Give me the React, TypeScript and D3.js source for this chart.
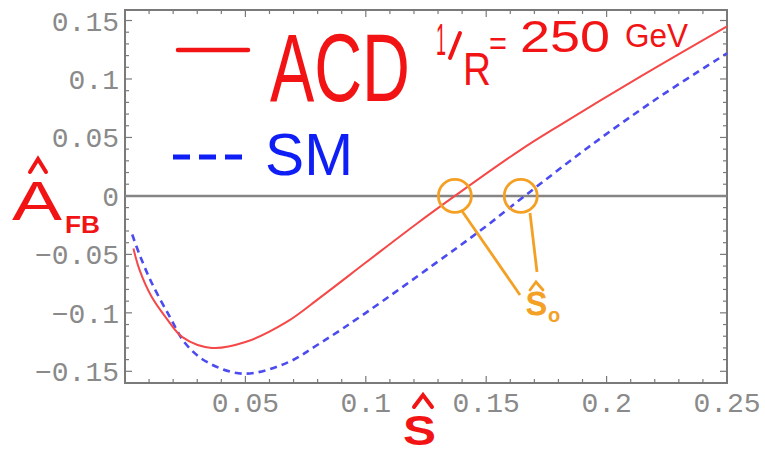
import React, { useEffect, useRef } from 'react'
import * as d3 from 'd3'

// A_FB vs s-hat
const acdS = [0.0035, 0.006, 0.011, 0.017, 0.024, 0.036, 0.05, 0.067, 0.081, 0.1, 0.121, 0.137, 0.164, 0.181, 0.214, 0.25]
const acdA = [-0.045, -0.063, -0.086, -0.104, -0.121, -0.13, -0.125, -0.108, -0.087, -0.057, -0.024, 0, 0.039, 0.061, 0.102, 0.145]
const smS = [0.003, 0.006, 0.011, 0.0185, 0.025, 0.034, 0.049, 0.067, 0.081, 0.1, 0.128, 0.148, 0.166, 0.192, 0.22, 0.25]
const smA = [-0.033, -0.05, -0.074, -0.103, -0.126, -0.142, -0.152, -0.143, -0.126, -0.1, -0.059, -0.029, 0, 0.041, 0.082, 0.122]

const xTicks = [0.05, 0.1, 0.15, 0.2, 0.25]
const xTickLabels = ['0.05', '0.1', '0.15', '0.2', '0.25']
const yTicks = [-0.15, -0.1, -0.05, 0, 0.05, 0.1, 0.15]
const yTickLabels = ['\u22120.15', '\u22120.1', '\u22120.05', '0', '0.05', '0.1', '0.15']

export default function App() {
  const ref = useRef<SVGSVGElement>(null)

  useEffect(() => {
    const svg = d3.select(ref.current)
    svg.selectAll('*').remove()

    const left = 125, right = 727, top = 10, bottom = 383
    const x = d3.scaleLinear().domain([0, 0.25]).range([left, right])
    const y = d3.scaleLinear().domain([-0.16, 0.159]).range([bottom, top])

    const gray = '#7a7a7a'
    // frame
    svg.append('rect')
      .attr('x', left).attr('y', top)
      .attr('width', right - left).attr('height', bottom - top)
      .attr('fill', 'none').attr('stroke', gray).attr('stroke-width', 2)

    // ticks on all four sides, inward
    const xMinor = d3.range(1, 25).map(i => i / 100).filter(v => Math.abs(v * 20 - Math.round(v * 20)) > 1e-6)
    const yMinor = d3.range(-15, 16).map(i => i / 100).filter(v => Math.abs(v * 20 - Math.round(v * 20)) > 1e-6)
    const tk = svg.append('g').attr('stroke', gray).attr('stroke-width', 1.2)
    const xt = [...xTicks.map(v => ({ v, l: 7 })), ...xMinor.map(v => ({ v, l: 4 }))]
    const yt = [...yTicks.map(v => ({ v, l: 7 })), ...yMinor.map(v => ({ v, l: 4 }))]
    xt.forEach(t => {
      tk.append('line').attr('x1', x(t.v)).attr('x2', x(t.v)).attr('y1', bottom).attr('y2', bottom - t.l)
      tk.append('line').attr('x1', x(t.v)).attr('x2', x(t.v)).attr('y1', top).attr('y2', top + t.l)
    })
    yt.forEach(t => {
      tk.append('line').attr('y1', y(t.v)).attr('y2', y(t.v)).attr('x1', left).attr('x2', left + t.l)
      tk.append('line').attr('y1', y(t.v)).attr('y2', y(t.v)).attr('x1', right).attr('x2', right - t.l)
    })

    // tick labels
    const lab = svg.append('g')
      .style('font-family', '"Liberation Mono", "DejaVu Sans Mono", monospace')
      .style('font-size', '28px').attr('fill', '#8a8a8a')
    xTicks.forEach((v, i) => {
      lab.append('text').attr('x', x(v)).attr('y', bottom + 29)
        .attr('text-anchor', 'middle').text(xTickLabels[i])
    })
    yTicks.forEach((v, i) => {
      lab.append('text').attr('x', left - 6).attr('y', y(v) + 10)
        .attr('text-anchor', 'end').text(yTickLabels[i])
    })

    // zero line
    svg.append('line').attr('x1', left).attr('x2', right).attr('y1', y(0)).attr('y2', y(0))
      .attr('stroke', '#858585').attr('stroke-width', 2.5)

    const line = d3.line<[number, number]>().x(d => x(d[0])).y(d => y(d[1])).curve(d3.curveCatmullRom)
    svg.append('path').attr('d', line(smS.map((s, i) => [s, smA[i]])))
      .attr('fill', 'none').attr('stroke', '#4b4bf0').attr('stroke-width', 2.6)
      .attr('stroke-dasharray', '7,5')
    svg.append('path').attr('d', line(acdS.map((s, i) => [s, acdA[i]])))
      .attr('fill', 'none').attr('stroke', '#f54848').attr('stroke-width', 2)

    // hand-written legend and labels
    const red = '#f21414', blue = '#0f1ef5', orange = '#f4a024'
    const hand = '"Liberation Sans", Arial, sans-serif'
    svg.append('line').attr('x1', 178).attr('x2', 248).attr('y1', 50).attr('y2', 50)
      .attr('stroke', red).attr('stroke-width', 4.5).attr('stroke-linecap', 'round')
    svg.append('text').attr('x', 270).attr('y', 101).attr('font-family', hand)
      .attr('font-size', 97).attr('fill', red)
      .attr('textLength', 140).attr('lengthAdjust', 'spacingAndGlyphs').text('ACD')
    svg.append('line').attr('x1', 173).attr('x2', 243).attr('y1', 157).attr('y2', 157)
      .attr('stroke', blue).attr('stroke-width', 5).attr('stroke-dasharray', '17,9')
    svg.append('text').attr('x', 265).attr('y', 175).attr('font-family', hand)
      .attr('font-size', 60).attr('fill', blue)
      .attr('textLength', 88).attr('lengthAdjust', 'spacingAndGlyphs').text('SM')

    const g1 = svg.append('g').attr('font-family', hand).attr('fill', red)
    g1.append('text').attr('x', 436).attr('y', 55).attr('font-size', 45)
      .attr('textLength', 10).attr('lengthAdjust', 'spacingAndGlyphs').text('1')
    svg.append('line').attr('x1', 460).attr('y1', 33).attr('x2', 450).attr('y2', 58)
      .attr('stroke', red).attr('stroke-width', 4).attr('stroke-linecap', 'round')
    g1.append('text').attr('x', 463).attr('y', 85).attr('font-size', 46)
      .attr('textLength', 28).attr('lengthAdjust', 'spacingAndGlyphs').text('R')
    g1.append('text').attr('x', 489).attr('y', 55).attr('font-size', 34)
      .attr('textLength', 18).attr('lengthAdjust', 'spacingAndGlyphs').text('=')
    g1.append('text').attr('x', 520).attr('y', 52).attr('font-size', 45)
      .attr('textLength', 90).attr('lengthAdjust', 'spacingAndGlyphs').text('250')
    g1.append('text').attr('x', 625).attr('y', 47).attr('font-size', 34)
      .attr('textLength', 63).attr('lengthAdjust', 'spacingAndGlyphs').text('GeV')

    // y label A-hat FB
    g1.append('text').attr('x', 12).attr('y', 220).attr('font-size', 55)
      .attr('textLength', 50).attr('lengthAdjust', 'spacingAndGlyphs').text('A')
    g1.append('text').attr('x', 65).attr('y', 233).attr('font-size', 24).attr('font-weight', 'bold')
      .attr('textLength', 35).attr('lengthAdjust', 'spacingAndGlyphs').text('FB')
    svg.append('path').attr('d', 'M30,172 L38,159 L46,172')
      .attr('fill', 'none').attr('stroke', red).attr('stroke-width', 4).attr('stroke-linecap', 'round')

    // x label s-hat
    g1.append('text').attr('x', 403).attr('y', 445).attr('font-size', 42).attr('font-weight', 'bold')
      .attr('textLength', 33).attr('lengthAdjust', 'spacingAndGlyphs').text('S')
    svg.append('path').attr('d', 'M414,407 L423,395 L432,407')
      .attr('fill', 'none').attr('stroke', red).attr('stroke-width', 4).attr('stroke-linecap', 'round')

    // s0 markers
    const o = svg.append('g').attr('fill', 'none').attr('stroke', orange).attr('stroke-width', 2.8)
    o.append('circle').attr('cx', x(acdS[11])).attr('cy', y(0)).attr('r', 16.5)
    o.append('circle').attr('cx', x(smS[12]) - 4).attr('cy', y(0)).attr('r', 16.5)
    o.append('line').attr('x1', 462).attr('y1', 211).attr('x2', 520).attr('y2', 295)
    o.append('line').attr('x1', 530).attr('y1', 213).attr('x2', 537).attr('y2', 272)
    o.append('path').attr('d', 'M530,290 L536,282 L543,290').attr('stroke-linecap', 'round')
    svg.append('text').attr('x', 526).attr('y', 315).attr('font-family', hand)
      .attr('font-size', 42).attr('fill', orange).attr('stroke', orange).attr('stroke-width', 1).text('s')
    svg.append('text').attr('x', 548).attr('y', 322).attr('font-family', hand).attr('font-weight', 'bold')
      .attr('font-size', 20).attr('fill', orange).text('o')
  }, [])

  return (
    <svg ref={ref} width={765} height={452}
      style={{ position: 'absolute', left: 0, top: 0, background: '#fff' }} />
  )
}
